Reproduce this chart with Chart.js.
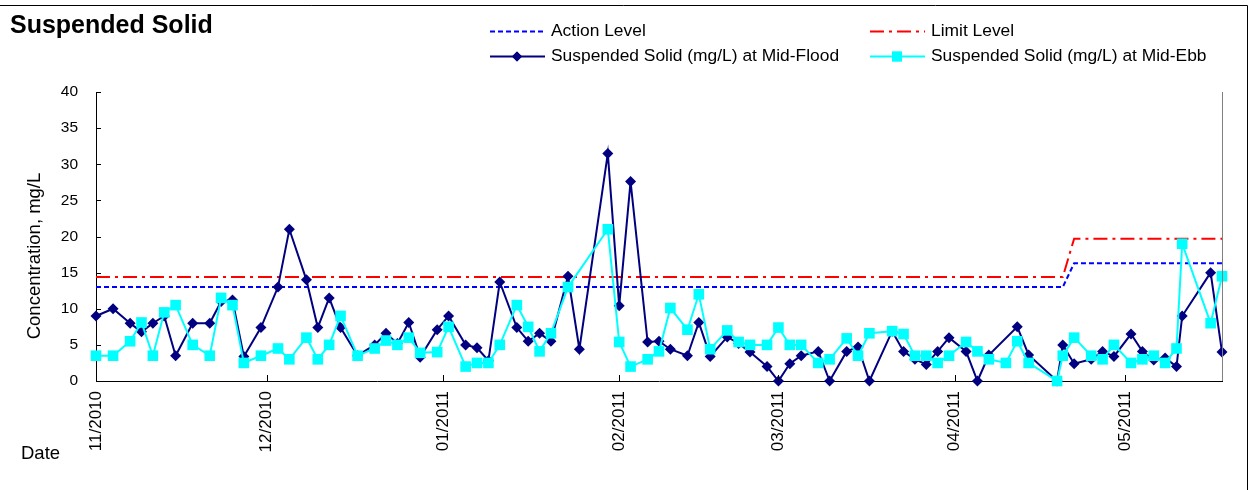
<!DOCTYPE html>
<html>
<head>
<meta charset="utf-8">
<script src="https://cdn.jsdelivr.net/npm/chart.js@4.4.1/dist/chart.umd.min.js"></script>
<style>
  html, body { margin: 0; padding: 0; background: #fff; }
  #wrap { width: 1250px; height: 490px; position: relative; }
</style>
</head>
<body>
<div id="wrap"><canvas id="ssChart" width="1250" height="490"></canvas></div>
<script>
// Datos
const startDate = '2010-11-01';
const endDate = '2011-05-18';

const sampleDates = [
    '2010-11-01', '2010-11-04', '2010-11-07', '2010-11-09', '2010-11-11', '2010-11-13', '2010-11-15',
    '2010-11-18', '2010-11-21', '2010-11-23', '2010-11-25', '2010-11-27', '2010-11-30',
    '2010-12-03', '2010-12-05', '2010-12-08', '2010-12-10', '2010-12-12', '2010-12-14', '2010-12-17',
    '2010-12-20', '2010-12-22', '2010-12-24', '2010-12-26', '2010-12-28', '2010-12-31',
    '2011-01-02', '2011-01-05', '2011-01-07', '2011-01-09', '2011-01-11', '2011-01-14', '2011-01-16',
    '2011-01-18', '2011-01-20', '2011-01-23', '2011-01-25', '2011-01-30',
    '2011-02-01', '2011-02-03', '2011-02-06', '2011-02-08', '2011-02-10', '2011-02-13', '2011-02-15',
    '2011-02-17', '2011-02-20', '2011-02-22', '2011-02-24', '2011-02-27',
    '2011-03-01', '2011-03-03', '2011-03-05', '2011-03-08', '2011-03-10', '2011-03-13', '2011-03-15',
    '2011-03-17', '2011-03-21', '2011-03-23', '2011-03-25', '2011-03-27', '2011-03-29', '2011-03-31',
    '2011-04-03', '2011-04-05', '2011-04-07', '2011-04-10', '2011-04-12', '2011-04-14', '2011-04-19',
    '2011-04-20', '2011-04-22', '2011-04-25', '2011-04-27', '2011-04-29',
    '2011-05-02', '2011-05-04', '2011-05-06', '2011-05-08', '2011-05-10', '2011-05-11', '2011-05-16',
    '2011-05-18'
];

const floodValues = [
    9.0, 10.0, 8.0, 6.8, 8.0, 9.0, 3.5,
    8.0, 8.0, 11.0, 11.2, 3.4, 7.4,
    13.0, 21.0, 14.0, 7.4, 11.5, 7.4, 3.5,
    5.0, 6.6, 5.2, 8.1, 3.3, 7.1,
    9.0, 5.0, 4.6, 2.8, 13.7, 7.4, 5.5,
    6.6, 5.5, 14.5, 4.4, 31.5,
    10.4, 27.6, 5.4, 5.5, 4.4, 3.5, 8.1,
    3.4, 6.1, 5.2, 4.0, 2.0,
    0.0, 2.4, 3.5, 4.1, 0.0, 4.1, 4.7,
    0.0, 6.9, 4.1, 3.0, 2.3, 4.1, 6.0,
    4.1, 0.0, 3.6, null, 7.5, 3.6, 0.0,
    5.0, 2.4, 3.0, 4.1, 3.4,
    6.5, 4.1, 2.9, 3.2, 2.0, 9.0, 15.0,
    4.0
];

const ebbValues = [
    3.5, 3.5, 5.5, 8.1, 3.5, 9.5, 10.5,
    5.0, 3.5, 11.5, 10.5, 2.5, 3.5,
    4.5, 3.0, 6.0, 3.0, 5.0, 9.0, 3.5,
    4.5, 5.6, 5.0, 6.0, 3.9, 4.0,
    7.5, 2.0, 2.5, 2.5, 5.0, 10.5, 7.5,
    4.1, 6.6, 13.0, null, 21.0,
    5.4, 2.0, 3.0, 4.1, 10.1, 7.1, 12.0,
    4.4, 7.0, 5.4, 5.0, 5.0,
    7.4, 5.0, 5.0, 2.5, 3.0, 5.9, 3.5,
    6.6, 6.9, 6.5, 3.5, 3.5, 2.5, 3.5,
    5.4, 4.1, 3.0, 2.5, 5.5, 2.5, 0.0,
    3.5, 6.0, 3.5, 3.0, 5.0,
    2.5, 3.0, 3.5, 2.5, 4.5, 19.0, 8.0,
    14.5
];

const levelDates = ['2010-11-01', '2011-04-20', '2011-04-22', '2011-05-18'];
const actionLevel = [13.0, 13.0, 16.3, 16.3];
const limitLevel = [14.4, 14.4, 19.7, 19.7];

const monthTicks = ['2010-11-01', '2010-12-01', '2011-01-01', '2011-02-01', '2011-03-01', '2011-04-01', '2011-05-01'];
const monthLabels = ['11/2010', '12/2010', '01/2011', '02/2011', '03/2011', '04/2011', '05/2011'];

const FONT = '"Liberation Sans", Arial, sans-serif';

const dayOf = (s) => (Date.parse(s) - Date.parse(startDate)) / 86400000;
const toPoints = (dates, vals) => dates.map((d, i) => ({ x: dayOf(d), y: vals[i] }));
const tickDays = monthTicks.map(dayOf);

const seriesStyles = [
    { label: 'Action Level', color: '#0000FF', dash: [5, 3], marker: null },
    { label: 'Limit Level', color: '#FF0000', dash: [14, 5, 3, 5], marker: null },
    { label: 'Suspended Solid (mg/L) at Mid-Flood', color: '#000080', dash: [], marker: 'rectRot' },
    { label: 'Suspended Solid (mg/L) at Mid-Ebb', color: '#00FFFF', dash: [], marker: 'rect' }
];

// Decoraciones: título, leyenda, marcas de eje
const decorations = {
    id: 'decorations',
    afterDraw(chart) {
        const { ctx, chartArea: a, scales: { x, y } } = chart;
        ctx.save();

        ctx.strokeStyle = '#000';
        ctx.lineWidth = 1;
        ctx.beginPath();
        y.ticks.forEach(t => {
            const py = Math.round(y.getPixelForValue(t.value)) + 0.5;
            ctx.moveTo(a.left, py);
            ctx.lineTo(a.left + 5, py);
        });
        x.ticks.forEach(t => {
            const px = Math.round(x.getPixelForValue(t.value)) + 0.5;
            ctx.moveTo(px, a.bottom);
            ctx.lineTo(px, a.bottom - 6);
        });
        ctx.stroke();

        ctx.strokeStyle = '#808080';
        ctx.beginPath();
        ctx.moveTo(Math.round(a.right) + 0.5, a.top);
        ctx.lineTo(Math.round(a.right) + 0.5, a.bottom);
        ctx.stroke();

        // marco exterior
        ctx.strokeStyle = '#000';
        ctx.beginPath();
        ctx.moveTo(0, 5.5);
        ctx.lineTo(1247.5, 5.5);
        ctx.lineTo(1247.5, 490);
        ctx.stroke();

        ctx.fillStyle = '#000';
        ctx.textBaseline = 'middle';
        ctx.textAlign = 'left';
        ctx.font = 'bold 25px ' + FONT;
        ctx.fillText('Suspended Solid', 10, 26);

        ctx.font = '18.5px ' + FONT;
        ctx.fillText('Date', 21, 454);

        ctx.save();
        ctx.translate(35, 256);
        ctx.rotate(-Math.PI / 2);
        ctx.textAlign = 'center';
        ctx.fillText('Concentration, mg/L', 0, 0);
        ctx.restore();

        // leyenda 2x2
        const cols = [490, 870];
        const rows = [31, 56];
        ctx.font = '17.4px ' + FONT;
        seriesStyles.forEach((s, i) => {
            const lx = cols[i % 2];
            const ly = rows[Math.floor(i / 2)] + 0.5;
            ctx.strokeStyle = s.color;
            ctx.lineWidth = 2;
            ctx.setLineDash(s.dash);
            ctx.beginPath();
            ctx.moveTo(lx, ly);
            ctx.lineTo(lx + 55, ly);
            ctx.stroke();
            ctx.setLineDash([]);
            if (s.marker) {
                ctx.fillStyle = s.color;
                Chart.helpers.drawPoint(ctx, {
                    pointStyle: s.marker,
                    radius: s.marker === 'rect' ? 7 : 5,
                    rotation: 0,
                    borderWidth: 0
                }, lx + 27, ly);
                ctx.fill();
            }
            ctx.fillStyle = '#000';
            ctx.fillText(s.label, lx + 61, ly);
        });

        ctx.restore();
    }
};

const ctx = document.getElementById('ssChart').getContext('2d');
new Chart(ctx, {
    type: 'line',
    data: {
        datasets: [
            {
                label: seriesStyles[3].label,
                data: toPoints(sampleDates, ebbValues),
                borderColor: seriesStyles[3].color,
                backgroundColor: seriesStyles[3].color,
                borderWidth: 2,
                pointStyle: 'rect',
                pointRadius: 7.5,
                pointBorderWidth: 0,
                spanGaps: true,
                clip: false,
                order: 0
            },
            {
                label: seriesStyles[2].label,
                data: toPoints(sampleDates, floodValues),
                borderColor: seriesStyles[2].color,
                backgroundColor: seriesStyles[2].color,
                borderWidth: 2,
                pointStyle: 'rectRot',
                pointRadius: 5.5,
                pointBorderWidth: 0,
                spanGaps: true,
                clip: false,
                order: 1
            },
            {
                label: seriesStyles[0].label,
                data: toPoints(levelDates, actionLevel),
                borderColor: seriesStyles[0].color,
                borderWidth: 2,
                borderDash: seriesStyles[0].dash,
                pointRadius: 0,
                order: 2
            },
            {
                label: seriesStyles[1].label,
                data: toPoints(levelDates, limitLevel),
                borderColor: seriesStyles[1].color,
                borderWidth: 2,
                borderDash: seriesStyles[1].dash,
                pointRadius: 0,
                order: 3
            }
        ]
    },
    options: {
        responsive: false,
        animation: false,
        events: [],
        layout: { padding: { top: 92, right: 28, left: 0, bottom: 0 } },
        plugins: {
            legend: { display: false },
            title: { display: false },
            tooltip: { enabled: false }
        },
        elements: { line: { tension: 0 } },
        scales: {
            x: {
                type: 'linear',
                min: 0,
                max: dayOf(endDate),
                afterFit: (scale) => { scale.height = 109; },
                afterBuildTicks: (scale) => { scale.ticks = tickDays.map(v => ({ value: v })); },
                grid: { display: false, drawTicks: false },
                border: { color: '#000', width: 1 },
                ticks: {
                    autoSkip: false,
                    minRotation: 90,
                    maxRotation: 90,
                    padding: 10,
                    color: '#000',
                    font: { family: FONT, size: 17 },
                    callback: (v) => monthLabels[tickDays.indexOf(v)]
                }
            },
            y: {
                min: 0,
                max: 40,
                afterFit: (scale) => { scale.width = 96; },
                grid: { display: false, drawTicks: false },
                border: { color: '#000', width: 1 },
                ticks: {
                    stepSize: 5,
                    padding: 18,
                    color: '#000',
                    font: { family: FONT, size: 15.5 }
                }
            }
        }
    },
    plugins: [decorations]
});
</script>
</body>
</html>
